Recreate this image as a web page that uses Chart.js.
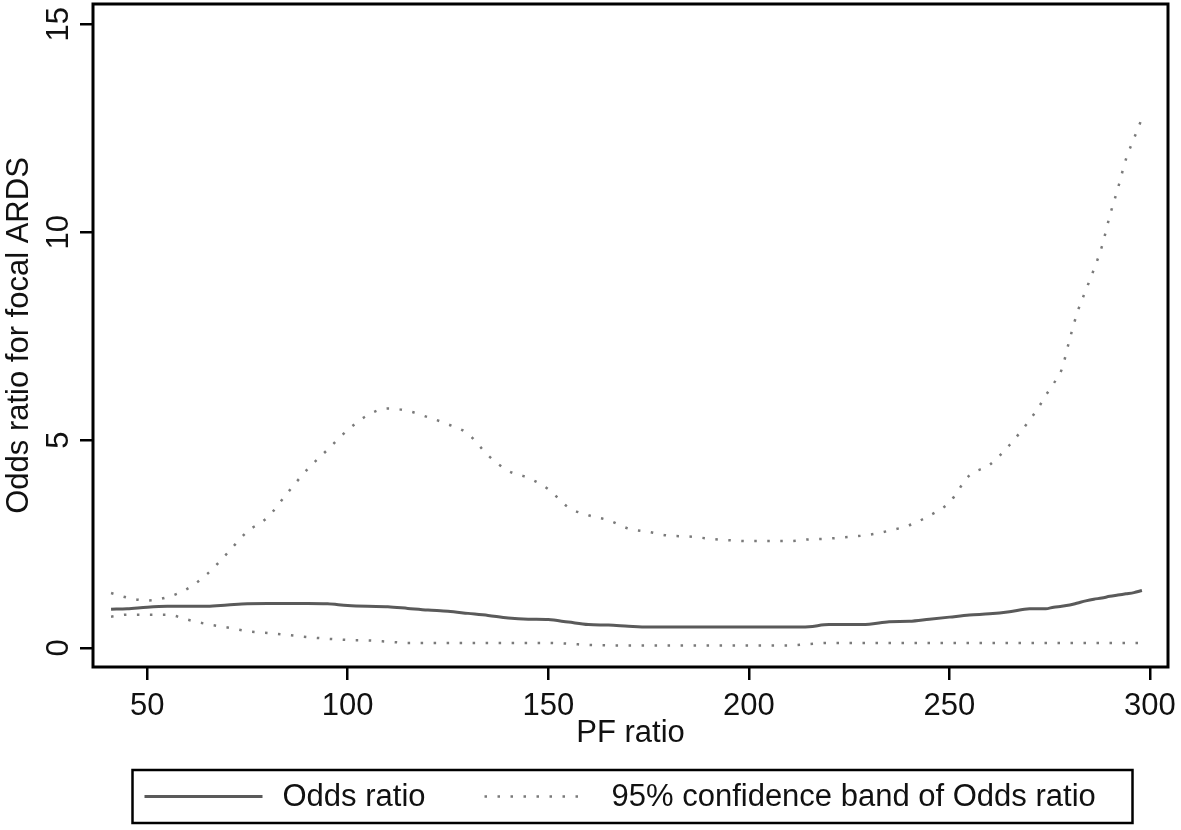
<!DOCTYPE html>
<html>
<head>
<meta charset="utf-8">
<style>
  html, body { margin: 0; padding: 0; background: #fff; }
  #wrap { width: 1181px; height: 830px; }
</style>
<script src="https://cdn.jsdelivr.net/npm/chart.js@4"></script>
</head>
<body>
<div id="wrap"><canvas id="c" width="1181" height="830"></canvas></div>
<script>
/* ---------- data ---------- */
const pfRatio = [41, 45, 50, 55, 60, 65, 70, 75, 80, 85, 90, 95, 100, 105, 110, 115, 120, 125, 130, 135,
                 140, 145, 150, 155, 160, 165, 170, 175, 180, 185, 190, 195, 200, 205, 210, 215, 220, 225,
                 230, 235, 240, 245, 250, 255, 260, 265, 270, 272, 274, 276, 278, 280, 282, 284, 286, 288,
                 290, 292, 294, 296, 298];

const oddsRatio = [0.93, 0.94, 0.98, 1.00, 1.00, 1.00, 1.03, 1.06, 1.07, 1.07, 1.07, 1.06, 1.02, 1.00, 0.99, 0.95,
                   0.91, 0.88, 0.83, 0.78, 0.72, 0.69, 0.68, 0.62, 0.56, 0.55, 0.52, 0.50, 0.50, 0.50, 0.50, 0.50,
                   0.50, 0.50, 0.50, 0.51, 0.56, 0.56, 0.57, 0.63, 0.64, 0.69, 0.74, 0.79, 0.82, 0.87, 0.94, 0.94,
                   0.94, 0.98, 1.00, 1.03, 1.08, 1.13, 1.17, 1.20, 1.24, 1.27, 1.30, 1.33, 1.38];

const upperCI = [1.32, 1.21, 1.14, 1.22, 1.42, 1.78, 2.28, 2.80, 3.14, 3.73, 4.30, 4.77, 5.24, 5.60, 5.76, 5.70,
                 5.55, 5.38, 5.15, 4.63, 4.26, 4.09, 3.82, 3.38, 3.19, 3.07, 2.87, 2.79, 2.70, 2.68, 2.63, 2.59,
                 2.57, 2.57, 2.57, 2.61, 2.63, 2.67, 2.72, 2.82, 2.95, 3.18, 3.50, 4.15, 4.40, 4.88, 5.48, 5.75,
                 6.07, 6.36, 6.70, 7.43, 8.10, 8.60, 9.10, 9.65, 10.40, 11.05, 11.75, 12.25, 12.74];

const lowerCI = [0.75, 0.80, 0.80, 0.80, 0.68, 0.57, 0.49, 0.40, 0.36, 0.31, 0.26, 0.22, 0.19, 0.18, 0.15, 0.12,
                 0.12, 0.12, 0.12, 0.12, 0.12, 0.12, 0.12, 0.10, 0.07, 0.06, 0.06, 0.06, 0.06, 0.06, 0.06, 0.06,
                 0.06, 0.06, 0.06, 0.09, 0.12, 0.12, 0.12, 0.12, 0.12, 0.12, 0.12, 0.12, 0.12, 0.12, 0.12, 0.12,
                 0.12, 0.12, 0.12, 0.12, 0.12, 0.12, 0.12, 0.12, 0.12, 0.12, 0.12, 0.12, 0.12];

const xTicks = [50, 100, 150, 200, 250, 300];
const yTicks = [0, 5, 10, 15];
const legendLabels = ['Odds ratio', '95% confidence band of Odds ratio'];

/* ---------- styling ---------- */
const FONT = '"Liberation Sans", Arial, sans-serif';
const solidColor = '#5a5a5a';
const dotColor = '#7a7a7a';
const dotDash = [2.5, 10.5];

const toPts = (ys) => pfRatio.map((x, i) => ({ x: x, y: ys[i] }));

// full plot-region outline plus the framed legend underneath
const frameAndLegend = {
  id: 'frameAndLegend',
  afterDraw(chart) {
    const { ctx, chartArea } = chart;
    ctx.save();
    ctx.strokeStyle = '#000';
    ctx.lineWidth = 3;
    ctx.strokeRect(chartArea.left, chartArea.top,
                   chartArea.right - chartArea.left, chartArea.bottom - chartArea.top);

    const cx = (chartArea.left + chartArea.right) / 2;
    const w = 1000, h = 53;
    const left = cx - w / 2 + 2, top = 770;
    ctx.lineWidth = 2.5;
    ctx.strokeRect(left, top, w, h);

    const midY = top + h / 2;
    ctx.lineCap = 'butt';
    // solid sample
    ctx.setLineDash([]);
    ctx.strokeStyle = solidColor;
    ctx.lineWidth = 3;
    ctx.beginPath(); ctx.moveTo(left + 12, midY); ctx.lineTo(left + 130, midY); ctx.stroke();
    // dotted sample
    ctx.setLineDash(dotDash);
    ctx.strokeStyle = dotColor;
    ctx.lineWidth = 2.5;
    ctx.beginPath(); ctx.moveTo(left + 352, midY); ctx.lineTo(left + 450, midY); ctx.stroke();
    ctx.setLineDash([]);

    ctx.fillStyle = '#111';
    ctx.font = '31px ' + FONT;
    ctx.textBaseline = 'middle';
    ctx.textAlign = 'left';
    ctx.fillText(legendLabels[0], left + 150, midY + 1);
    ctx.fillText(legendLabels[1], left + 479, midY + 1);
    ctx.restore();
  }
};

new Chart(document.getElementById('c'), {
  type: 'line',
  data: {
    datasets: [
      {
        label: legendLabels[0],
        data: toPts(oddsRatio),
        borderColor: solidColor,
        borderWidth: 3,
        pointRadius: 0,
        cubicInterpolationMode: 'monotone',
        fill: false
      },
      {
        label: legendLabels[1],
        data: toPts(upperCI),
        borderColor: dotColor,
        borderWidth: 2.5,
        borderDash: dotDash,
        pointRadius: 0,
        cubicInterpolationMode: 'monotone',
        fill: false
      },
      {
        label: legendLabels[1] + ' (lower)',
        data: toPts(lowerCI),
        borderColor: dotColor,
        borderWidth: 2.5,
        borderDash: dotDash,
        pointRadius: 0,
        cubicInterpolationMode: 'monotone',
        fill: false
      }
    ]
  },
  options: {
    responsive: false,
    animation: false,
    layout: { padding: { top: 4, right: 13, bottom: 78, left: 0 } },
    plugins: {
      legend: { display: false },
      tooltip: { enabled: false }
    },
    scales: {
      x: {
        type: 'linear',
        min: 36.5,
        max: 304.5,
        afterBuildTicks: (s) => { s.ticks = xTicks.map(v => ({ value: v })); },
        afterFit: (s) => { s.height = 85; s.paddingLeft = 0; s.paddingRight = 0; },
        border: { display: false },
        grid: { drawOnChartArea: false, drawTicks: true, tickLength: 13, color: '#000', lineWidth: 2.5 },
        ticks: { color: '#111', font: { family: FONT, size: 31 }, padding: 8, maxRotation: 0 },
        title: { display: true, text: 'PF ratio', color: '#111', font: { family: FONT, size: 31 },
                 padding: { top: 0, bottom: 0 } }
      },
      y: {
        type: 'linear',
        min: -0.46,
        max: 15.49,
        afterBuildTicks: (s) => { s.ticks = yTicks.map(v => ({ value: v })); },
        afterFit: (s) => { s.width = 93; s.paddingTop = 0; s.paddingBottom = 0; },
        border: { display: false },
        grid: { drawOnChartArea: false, drawTicks: true, tickLength: 13, color: '#000', lineWidth: 2.5 },
        ticks: { color: '#111', font: { family: FONT, size: 31 }, padding: 3,
                 minRotation: 90, maxRotation: 90, crossAlign: 'center' },
        title: { display: true, text: 'Odds ratio for focal ARDS', color: '#111',
                 font: { family: FONT, size: 31 }, padding: { top: 1, bottom: 0 } }
      }
    }
  },
  plugins: [frameAndLegend]
});
</script>
</body>
</html>
